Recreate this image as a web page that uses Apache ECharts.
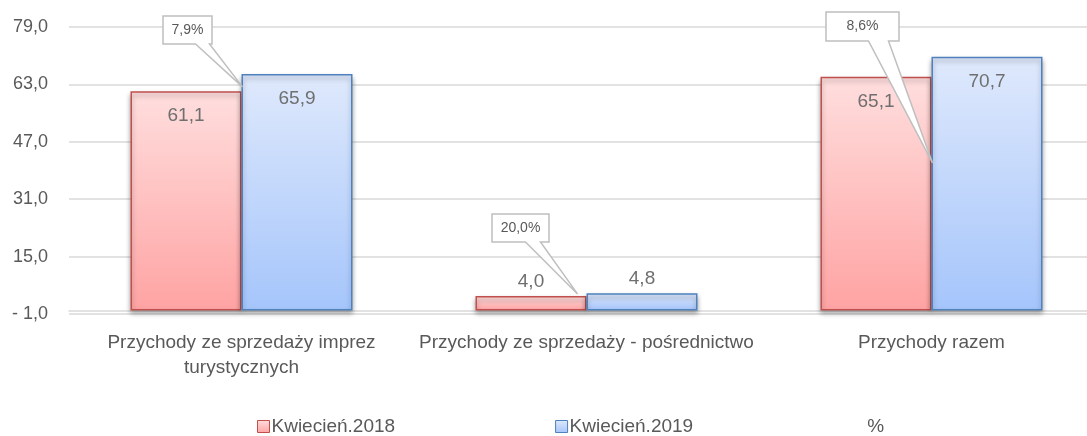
<!DOCTYPE html>
<html>
<head>
<meta charset="utf-8">
<script src="https://cdn.jsdelivr.net/npm/echarts@6/dist/echarts.min.js"></script>
<style>
  html, body { margin: 0; padding: 0; background: #fff; }
  #chart { width: 1087px; height: 436px; }
</style>
</head>
<body>
<div id="chart"></div>
<script>
const categories = [
  'Przychody ze sprzedaży imprez\nturystycznych',
  'Przychody ze sprzedaży - pośrednictwo',
  'Przychody razem'
];
const seriesNames = ['Kwiecień.2018', 'Kwiecień.2019', '%'];
const values2018 = [61.1, 4.0, 65.1];
const values2019 = [65.9, 4.8, 70.7];
const pctChange = [7.9, 20.0, 8.6];
// where the hidden % points sit on the value axis (callout tips)
const pctAnchor = [62.3, 4.6, 41.1];
const yTicks = [-1, 15, 31, 47, 63, 79];

const FONT = "'Liberation Sans', Arial, sans-serif";
const fmt = v => v.toFixed(1).replace('.', ',');

const chart = echarts.init(document.getElementById('chart'));

const grad = (top, bottom) => new echarts.graphic.LinearGradient(0, 0, 0, 1, [
  { offset: 0, color: top },
  { offset: 1, color: bottom },
]);

const fill2018 = grad('#ffdede', '#ffa3a3');
const fill2019 = grad('#dfe9fc', '#a5c5fb');

const barData = vals => vals.map(v => ({
  value: v,
  label: v > 20
    ? { position: 'insideTop', distance: 15 }
    : { position: 'top', distance: 5 },
}));

const barSeries = (name, vals, fill, border) => ({
  name,
  type: 'bar',
  data: barData(vals),
  barWidth: 111,
  barGap: '0%',
  itemStyle: {
    color: fill,
    borderColor: border,
    borderWidth: 1.5,
    shadowColor: 'rgba(0,0,0,0.35)',
    shadowBlur: 5,
    shadowOffsetY: 3,
  },
  label: {
    show: true,
    formatter: p => fmt(p.value),
    color: '#6f6f6f',
    fontSize: 19,
    fontFamily: FONT,
  },
  emphasis: { disabled: true },
});

// callout geometry: box centre x / top / bottom relative to tip, tail base, tip shift
const callout = [
  { cx: -55, top: -71, bottom: -43, w: 49, t0: 8, t1: 22, tipDx: 1 },
  { cx: -57, top: -80, bottom: -52, w: 57, t0: 5, t1: 20, tipDx: -9 },
  { cx: -70, top: -151, bottom: -122, w: 73, t0: 6, t1: 26, tipDx: 1 },
];

const calloutSeries = {
  name: '%',
  type: 'custom',
  z: 10,
  data: categories.map((c, i) => [i, pctAnchor[i], pctChange[i]]),
  encode: { x: 0, y: 1 },
  itemStyle: { color: 'transparent' },
  renderItem: (params, api) => {
    const c = callout[params.dataIndex];
    const p = api.coord([api.value(0), api.value(1)]);
    const tx = p[0] + c.tipDx, ty = p[1];
    const cx = tx + c.cx;
    const L = cx - c.w / 2, R = cx + c.w / 2;
    const T = ty + c.top, B = ty + c.bottom;
    return {
      type: 'group',
      children: [
        {
          type: 'polygon',
          shape: {
            points: [[L, T], [R, T], [R, B], [cx + c.t1, B], [tx, ty], [cx + c.t0, B], [L, B]],
          },
          style: { fill: '#fff', stroke: '#bfbfbf', lineWidth: 1.5 },
        },
        {
          type: 'text',
          style: {
            x: cx,
            y: (T + B) / 2,
            text: fmt(api.value(2)) + '%',
            align: 'center',
            verticalAlign: 'middle',
            fill: '#595959',
            fontSize: 14,
            fontFamily: FONT,
          },
        },
      ],
    };
  },
};

chart.setOption({
  animation: false,
  grid: { left: 69, width: 1035, top: 27, bottom: 122, outerBoundsMode: 'none', containLabel: false },
  legend: {
    left: 257,
    top: 417,
    padding: 0,
    itemWidth: 12,
    itemHeight: 12,
    itemGap: 160,
    textStyle: {
      color: '#595959', fontSize: 19, fontFamily: FONT,
      width: 140, padding: [0, 0, 0, -3],
    },
    data: [
      { name: seriesNames[0], icon: 'rect', itemStyle: { color: fill2018, borderColor: '#c0504d', borderWidth: 1 } },
      { name: seriesNames[1], icon: 'rect', itemStyle: { color: fill2019, borderColor: '#4f81bd', borderWidth: 1 } },
      { name: seriesNames[2], icon: 'rect', itemStyle: { color: 'transparent', borderColor: 'transparent', borderWidth: 0 } },
    ],
  },
  xAxis: {
    type: 'category',
    data: categories,
    axisLine: { show: true, lineStyle: { color: '#d9d9d9', width: 1.5 } },
    axisTick: { show: false },
    axisLabel: {
      interval: 0,
      margin: 16,
      color: '#595959',
      fontSize: 19,
      lineHeight: 25,
      fontFamily: FONT,
    },
  },
  yAxis: {
    type: 'value',
    min: yTicks[0],
    max: yTicks[yTicks.length - 1],
    interval: yTicks[1] - yTicks[0],
    axisLine: { show: false },
    axisTick: { show: false },
    splitLine: { lineStyle: { color: '#d9d9d9', width: 1.5 } },
    axisLabel: {
      margin: 21,
      color: '#595959',
      fontSize: 18,
      fontFamily: FONT,
      formatter: v => (v < 0 ? '- ' + fmt(Math.abs(v)) : fmt(v)),
    },
  },
  series: [
    barSeries(seriesNames[0], values2018, fill2018, '#c0504d'),
    barSeries(seriesNames[1], values2019, fill2019, '#4f81bd'),
    calloutSeries,
  ],
});
</script>
</body>
</html>
